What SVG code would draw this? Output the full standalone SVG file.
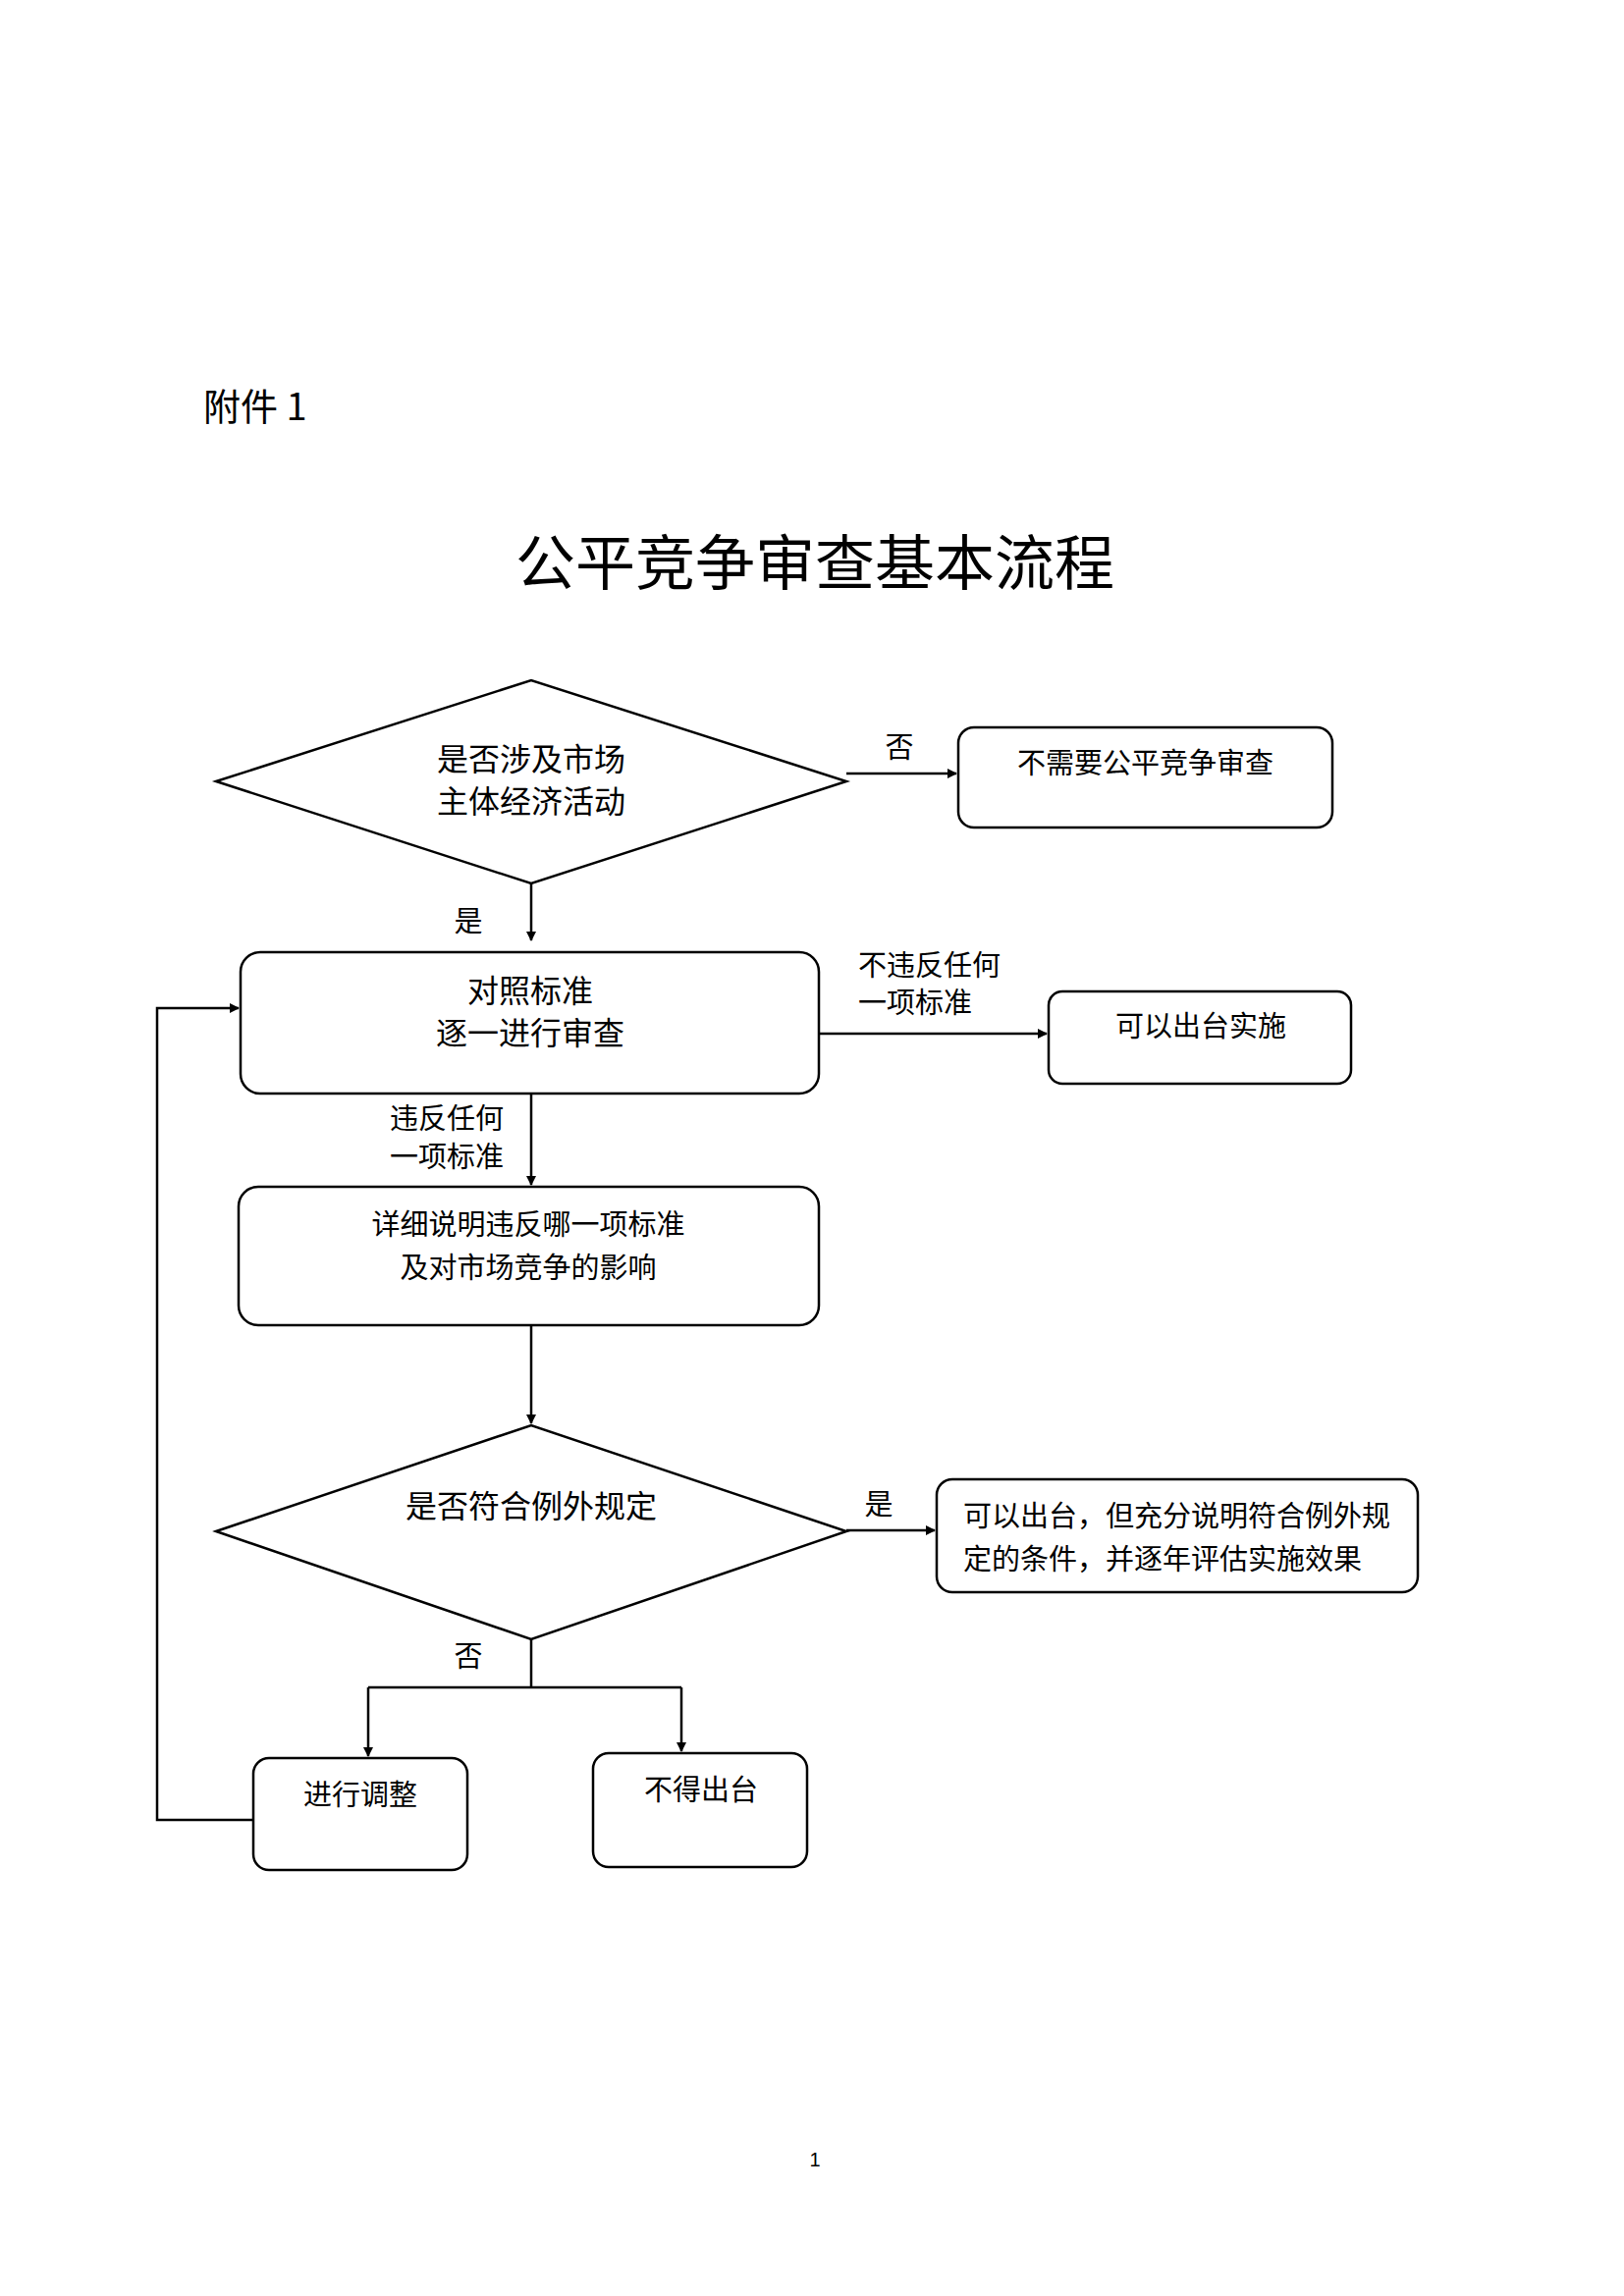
<svg xmlns="http://www.w3.org/2000/svg" width="1654" height="2339" viewBox="0 0 1654 2339">
<style>
text{font-family:"Noto Sans CJK SC","Liberation Sans",sans-serif;fill:#000}
.n{font-size:29px}
.d{font-size:32px}
.c{text-anchor:middle}
.s{fill:#fff;stroke:#000;stroke-width:2.5}
.l{fill:none;stroke:#000;stroke-width:2.5}
</style>
<defs><marker id="a" markerWidth="10" markerHeight="10" refX="9" refY="5" orient="auto" markerUnits="userSpaceOnUse" viewBox="0 0 10 10"><path d="M0,0L10,5L0,10z" fill="#000"/></marker></defs>
<rect width="1654" height="2339" fill="#fff"/>
<text x="207" y="428" style="font-size:38px;font-family:'Noto Sans CJK SC','Liberation Serif',serif">附件 1</text>
<text x="830" y="596" class="c" style="font-size:61px">公平竞争审查基本流程</text>
<g id="d1"><polygon class="s" points="220,796 541,693 862,796 541,900"/><text class="d c" x="541" y="785">是否涉及市场</text><text class="d c" x="541" y="828">主体经济活动</text></g>
<g id="n1"><rect class="s" x="976" y="741" width="381" height="102" rx="16"/><text class="n" x="1036" y="788">不需要公平竞争审查</text></g>
<g id="n2"><rect class="s" x="245" y="970" width="589" height="144" rx="20"/><text class="d c" x="540" y="1021">对照标准</text><text class="d c" x="540" y="1064">逐一进行审查</text></g>
<g id="n3"><rect class="s" x="1068" y="1010" width="308" height="94" rx="14"/><text class="n c" x="1223" y="1056">可以出台实施</text></g>
<g id="n4"><rect class="s" x="243" y="1209" width="591" height="141" rx="20"/><text class="n c" x="538" y="1258">详细说明违反哪一项标准</text><text class="n c" x="538" y="1302">及对市场竞争的影响</text></g>
<g id="d2"><polygon class="s" points="220,1560 541,1452 862,1560 541,1670"/><text class="d c" x="541" y="1546">是否符合例外规定</text></g>
<g id="n5"><rect class="s" x="954" y="1507" width="490" height="115" rx="16"/><text class="n" x="981" y="1555">可以出台，但充分说明符合例外规</text><text class="n" x="981" y="1599">定的条件，并逐年评估实施效果</text></g>
<g id="n6"><rect class="s" x="258" y="1791" width="218" height="114" rx="16"/><text class="n c" x="367" y="1839">进行调整</text></g>
<g id="n7"><rect class="s" x="604" y="1786" width="218" height="116" rx="16"/><text class="n c" x="714" y="1834">不得出台</text></g>
<g id="connectors">
<path class="l" d="M862,788H974" marker-end="url(#a)"/>
<path class="l" d="M541,900V958" marker-end="url(#a)"/>
<path class="l" d="M834,1053H1066" marker-end="url(#a)"/>
<path class="l" d="M541,1114V1207" marker-end="url(#a)"/>
<path class="l" d="M541,1350V1450" marker-end="url(#a)"/>
<path class="l" d="M862,1559H952" marker-end="url(#a)"/>
<path class="l" d="M541,1670V1719"/>
<path class="l" d="M375,1719H694"/>
<path class="l" d="M375,1719V1789" marker-end="url(#a)"/>
<path class="l" d="M694,1719V1784" marker-end="url(#a)"/>
<path class="l" d="M258,1854H160V1027H243" marker-end="url(#a)"/>
</g>
<g id="labels">
<text class="n c" x="916" y="772">否</text>
<text class="n c" x="477" y="949">是</text>
<text class="n" x="874" y="994">不违反任何</text>
<text class="n" x="874" y="1032">一项标准</text>
<text class="n" x="397" y="1150">违反任何</text>
<text class="n" x="397" y="1189">一项标准</text>
<text class="n c" x="895" y="1543">是</text>
<text class="n c" x="477" y="1698">否</text>
</g>
<text x="830" y="2207" class="c" style="font-size:20px;font-family:'Liberation Sans',sans-serif">1</text>
</svg>
